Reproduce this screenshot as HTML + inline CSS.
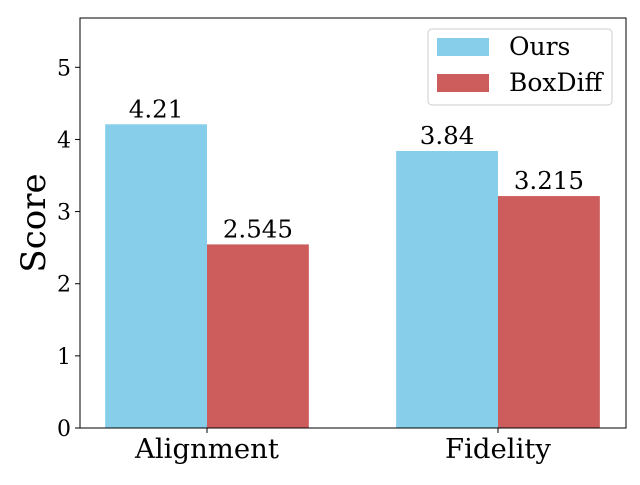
<!DOCTYPE html>
<html><head><meta charset="utf-8"><style>
body{margin:0;background:#fff}
svg text{font-family:"DejaVu Serif",serif;fill:#000}
</style></head><body>
<svg id="chart" width="640" height="480" xmlns="http://www.w3.org/2000/svg"></svg>
<script>
const categories=["Alignment","Fidelity"];
const seriesNames=["Ours","BoxDiff"];
const oursValues=[4.21,3.84];
const boxdiffValues=[2.545,3.215];
const valueLabels=[["4.21","3.84"],["2.545","3.215"]];
const yTicks=[0,1,2,3,4,5];
const colors=["#87CEEB","#CD5C5C"];
const L=80,R=626,T=18,B=428;
const xmin=-0.4364,xmax=1.4399,ymax=5.6835;
const xs=v=>L+(v-xmin)/(xmax-xmin)*(R-L);
const ys=v=>B-v/ymax*(B-T);
const NS="http://www.w3.org/2000/svg";
const svg=document.getElementById('chart');
function mk(t,a,txt){const e=document.createElementNS(NS,t);for(const k in a)e.setAttribute(k,a[k]);if(txt!==undefined)e.textContent=txt;svg.appendChild(e);return e;}
const w=0.35;
[oursValues,boxdiffValues].forEach((vals,s)=>{
 vals.forEach((v,i)=>{
  const x0=xs(i+(s===0?-w:0)),x1=xs(i+(s===0?0:w));
  const r=mk('rect',{x:x0,y:ys(v),width:x1-x0,height:B-ys(v),fill:colors[s]});
  
  
  const t=mk('text',{x:(x0+x1)/2,y:ys(v)-7,'text-anchor':'middle','font-size':'24.5'},valueLabels[s][i]);
  
  
 });
});
const ax=mk('rect',{x:L,y:T,width:R-L,height:B-T,fill:'none',stroke:'#000','stroke-width':1});


yTicks.forEach(v=>{
 mk('line',{x1:L-5,x2:L,y1:ys(v),y2:ys(v),stroke:'#000'});
 const t=mk('text',{x:L-9,y:ys(v)+8,'text-anchor':'end','font-size':'22'},String(v));
 
 
});
categories.forEach((c,i)=>{
 mk('line',{x1:xs(i),x2:xs(i),y1:B,y2:B+5,stroke:'#000'});
 const t=mk('text',{x:xs(i),y:B+30,'text-anchor':'middle','font-size':'27.5'},c);
 
 
});
const yt=mk('text',{x:0,y:0,'text-anchor':'middle','font-size':'34',transform:'translate(45,223) rotate(-90)'},'Score');


const lg=mk('rect',{x:428,y:29,width:184,height:76,rx:4,fill:'#fff',stroke:'#ccc'});


seriesNames.forEach((n,s)=>{
 const y=38+s*36;
 mk('rect',{x:437,y:y,width:52,height:18,fill:colors[s]});
 const t=mk('text',{x:509,y:y+17,'font-size':'25'},n);
 
 
});
</script>
</body></html>
